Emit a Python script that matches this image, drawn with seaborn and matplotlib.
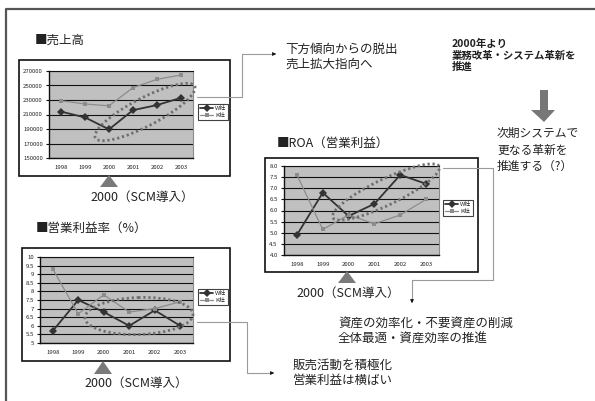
import matplotlib
matplotlib.use("Agg")
import matplotlib.pyplot as plt
from matplotlib.patches import Ellipse, Rectangle, Polygon
from matplotlib.lines import Line2D
import seaborn as sns
import pandas as pd

sns.set_style("white")
plt.rcParams["font.family"] = ["Noto Sans CJK JP", "DejaVu Sans"]

# ---- data ----
years = ["1998", "1999", "2000", "2001", "2002", "2003"]
companies = ["W社", "K社"]

sales_w = [214000, 206000, 189500, 216000, 223000, 233000]
sales_k = [229000, 224500, 222000, 247000, 258500, 264500]

margin_w = [5.7, 7.5, 6.8, 6.0, 6.9, 6.0]
margin_k = [9.3, 6.7, 7.8, 6.8, 7.0, 7.4]

roa_w = [4.9, 6.8, 5.75, 6.3, 7.6, 7.2]
roa_k = [7.6, 5.15, 5.8, 5.4, 5.8, 6.5]

sales_ticks = [150000, 170000, 190000, 210000, 230000, 250000, 270000]
margin_ticks = [5, 5.5, 6, 6.5, 7, 7.5, 8, 8.5, 9, 9.5, 10]
roa_ticks = [4.0, 4.5, 5.0, 5.5, 6.0, 6.5, 7.0, 7.5, 8.0]

W, H = 595, 401
fig = plt.figure(figsize=(W / 100, H / 100), dpi=100)
fig.patch.set_facecolor("white")


def px_axes(left, top, right, bottom, **kw):
    return fig.add_axes([left / W, 1 - bottom / H, (right - left) / W, (bottom - top) / H], **kw)


# background layer: page frame and chart boxes
bg = px_axes(0, 0, W, H, zorder=0)
bg.set_xlim(0, W)
bg.set_ylim(H, 0)
bg.axis("off")
bg.plot([6, 6, W + 5], [H + 5, 9, 9], color="#555555", lw=1.6, solid_capstyle="butt")
for (l, t, r, b) in [(19, 60, 230, 176), (22, 248, 230, 361), (265, 158, 478, 272)]:
    bg.add_patch(Rectangle((l, t), r - l, b - t, facecolor="white", edgecolor="#111111", lw=1.2))


def draw_chart(rect, w_vals, k_vals, ticks, fmt, legend_box):
    ax = px_axes(*rect, zorder=2)
    df = pd.DataFrame({
        "year": years * 2,
        "value": list(w_vals) + list(k_vals),
        "company": [companies[0]] * len(years) + [companies[1]] * len(years),
    })
    sns.lineplot(data=df, x="year", y="value", hue="company", style="company",
                 hue_order=companies, style_order=companies,
                 palette={"W社": "#333333", "K社": "#8c8c8c"},
                 markers={"W社": "D", "K社": "s"}, dashes=False,
                 markersize=3.2, markeredgewidth=0, legend=False, ax=ax, sort=False)
    for ln, lw, ms in zip(ax.lines[:2], [1.3, 0.9], [3.6, 2.4]):
        ln.set_linewidth(lw)
        ln.set_markersize(ms)
    ax.set_facecolor("#c0c0c0")
    ax.set_xlim(-0.5, len(years) - 0.5)
    ax.set_ylim(ticks[0], ticks[-1])
    ax.set_yticks(ticks)
    ax.set_yticklabels([fmt(t) for t in ticks])
    ax.set_xticks(range(len(years)))
    ax.set_xticklabels(years)
    ax.set_xticks([i - 0.5 for i in range(len(years) + 1)], minor=True)
    ax.tick_params(axis="x", which="major", length=0, labelsize=4.3, pad=5, colors="#222222")
    ax.tick_params(axis="x", which="minor", length=2.5, width=0.8, direction="inout", color="#111111")
    ax.tick_params(axis="y", length=2.5, width=0.8, labelsize=4.3, pad=2, direction="out",
                   color="#111111", labelcolor="#222222", left=True)
    for y in ticks:
        ax.axhline(y, color="#111111", lw=0.8, zorder=1)
    for side in ["left", "bottom"]:
        ax.spines[side].set_color("#111111")
        ax.spines[side].set_linewidth(1.0)
    ax.spines["top"].set_color("#111111")
    ax.spines["top"].set_linewidth(0.8)
    ax.spines["right"].set_color("#8a8a8a")
    ax.spines["right"].set_linewidth(0.8)
    ax.set_xlabel("")
    ax.set_ylabel("")
    handles = [Line2D([], [], color=ln.get_color(), lw=ln.get_linewidth(), marker=ln.get_marker(),
                      markersize=ln.get_markersize(), markeredgewidth=0) for ln in ax.lines[:2]]
    l, t = legend_box
    leg = fig.legend(handles, companies, loc="upper left",
                     bbox_to_anchor=(l / W, 1 - t / H), fontsize=4.3,
                     frameon=True, fancybox=False, borderpad=0.35, handlelength=2.2,
                     handletextpad=0.3, labelspacing=0.25, borderaxespad=0)
    leg.get_frame().set_edgecolor("#111111")
    leg.get_frame().set_linewidth(0.8)
    leg.set_zorder(5)
    return ax


draw_chart((49, 71, 193, 158), sales_w, sales_k, sales_ticks, lambda v: f"{v:d}", (198, 104))
draw_chart((40, 257, 193, 343), margin_w, margin_k, margin_ticks, lambda v: f"{v:g}", (198, 289))
draw_chart((284, 166, 439, 255), roa_w, roa_k, roa_ticks, lambda v: f"{v:.1f}", (443, 200))

# foreground layer: annotations
fg = px_axes(0, 0, W, H, zorder=10)
fg.set_xlim(0, W)
fg.set_ylim(H, 0)
fg.axis("off")
fg.patch.set_alpha(0)

dot = dict(facecolor="none", edgecolor="#6e6e6e", lw=2.0, linestyle=(0, (0.8, 1.0)))
fg.add_patch(Ellipse((145, 112), 112, 28, angle=-27.5, **dot))
fg.add_patch(Ellipse((139, 316), 108, 37, angle=-2, **dot))
fg.add_patch(Ellipse((386, 192), 118, 26, angle=-25.7, **dot))

tri = "#7a7a7a"
for cx, top, base, half in [(109, 175, 187, 9), (103, 361, 374, 9), (347, 271, 283, 9)]:
    fg.add_patch(Polygon([(cx, top), (cx - half, base), (cx + half, base)], closed=True,
                         facecolor=tri, edgecolor="none"))

# big grey down arrow
fg.add_patch(Polygon([(540, 90), (548, 90), (548, 110), (555, 110), (544, 122),
                      (531, 110), (540, 110)], closed=True, facecolor="#777777", edgecolor="none"))

conn = dict(color="#9a9a9a", lw=0.8)
fg.plot([197, 242, 242, 272], [97, 97, 54, 54], **conn)
fg.annotate("", xy=(279, 54), xytext=(271, 54),
            arrowprops=dict(arrowstyle="-|>", color="#111111", lw=0.6, mutation_scale=5))
fg.plot([443, 493, 493, 412, 412], [168, 168, 280, 280, 300], **conn)
fg.annotate("", xy=(412, 306), xytext=(412, 298),
            arrowprops=dict(arrowstyle="-|>", color="#111111", lw=0.6, mutation_scale=5))
fg.plot([197, 247, 247, 270], [322, 322, 373, 373], **conn)
fg.annotate("", xy=(277, 373), xytext=(269, 373),
            arrowprops=dict(arrowstyle="-|>", color="#111111", lw=0.6, mutation_scale=5))

txt = dict(color="#222222", va="center", ha="left")
fs = 9
fg.text(35, 40, "■売上高", fontsize=fs, **txt)
fg.text(36, 228, "■営業利益率（%）", fontsize=fs, **txt)
fg.text(277, 143, "■ROA（営業利益）", fontsize=fs, **txt)
fg.text(142, 197, "2000（SCM導入）", fontsize=fs, color="#222222", va="center", ha="center")
fg.text(136, 383, "2000（SCM導入）", fontsize=fs, color="#222222", va="center", ha="center")
fg.text(348, 293, "2000（SCM導入）", fontsize=fs, color="#222222", va="center", ha="center")

fg.text(285, 49, "下方傾向からの脱出", fontsize=fs, **txt)
fg.text(285, 64, "売上拡大指向へ", fontsize=fs, **txt)

fg.text(452, 44, "2000年より", fontsize=7.5, fontweight="bold", **txt)
fg.text(452, 55.5, "業務改革・システム革新を", fontsize=7.5, fontweight="bold", **txt)
fg.text(452, 67, "推進", fontsize=7.5, fontweight="bold", **txt)

fg.text(497, 133, "次期システムで", fontsize=8.5, **txt)
fg.text(497, 150, "更なる革新を", fontsize=8.5, **txt)
fg.text(497, 166, "推進する（?）", fontsize=8.5, **txt)

fg.text(338, 323, "資産の効率化・不要資産の削減", fontsize=fs, **txt)
fg.text(338, 339, "全体最適・資産効率の推進", fontsize=fs, **txt)

fg.text(293, 365, "販売活動を積極化", fontsize=fs, **txt)
fg.text(293, 380, "営業利益は横ばい", fontsize=fs, **txt)

fig.savefig("out.png", dpi=100, facecolor="white")
